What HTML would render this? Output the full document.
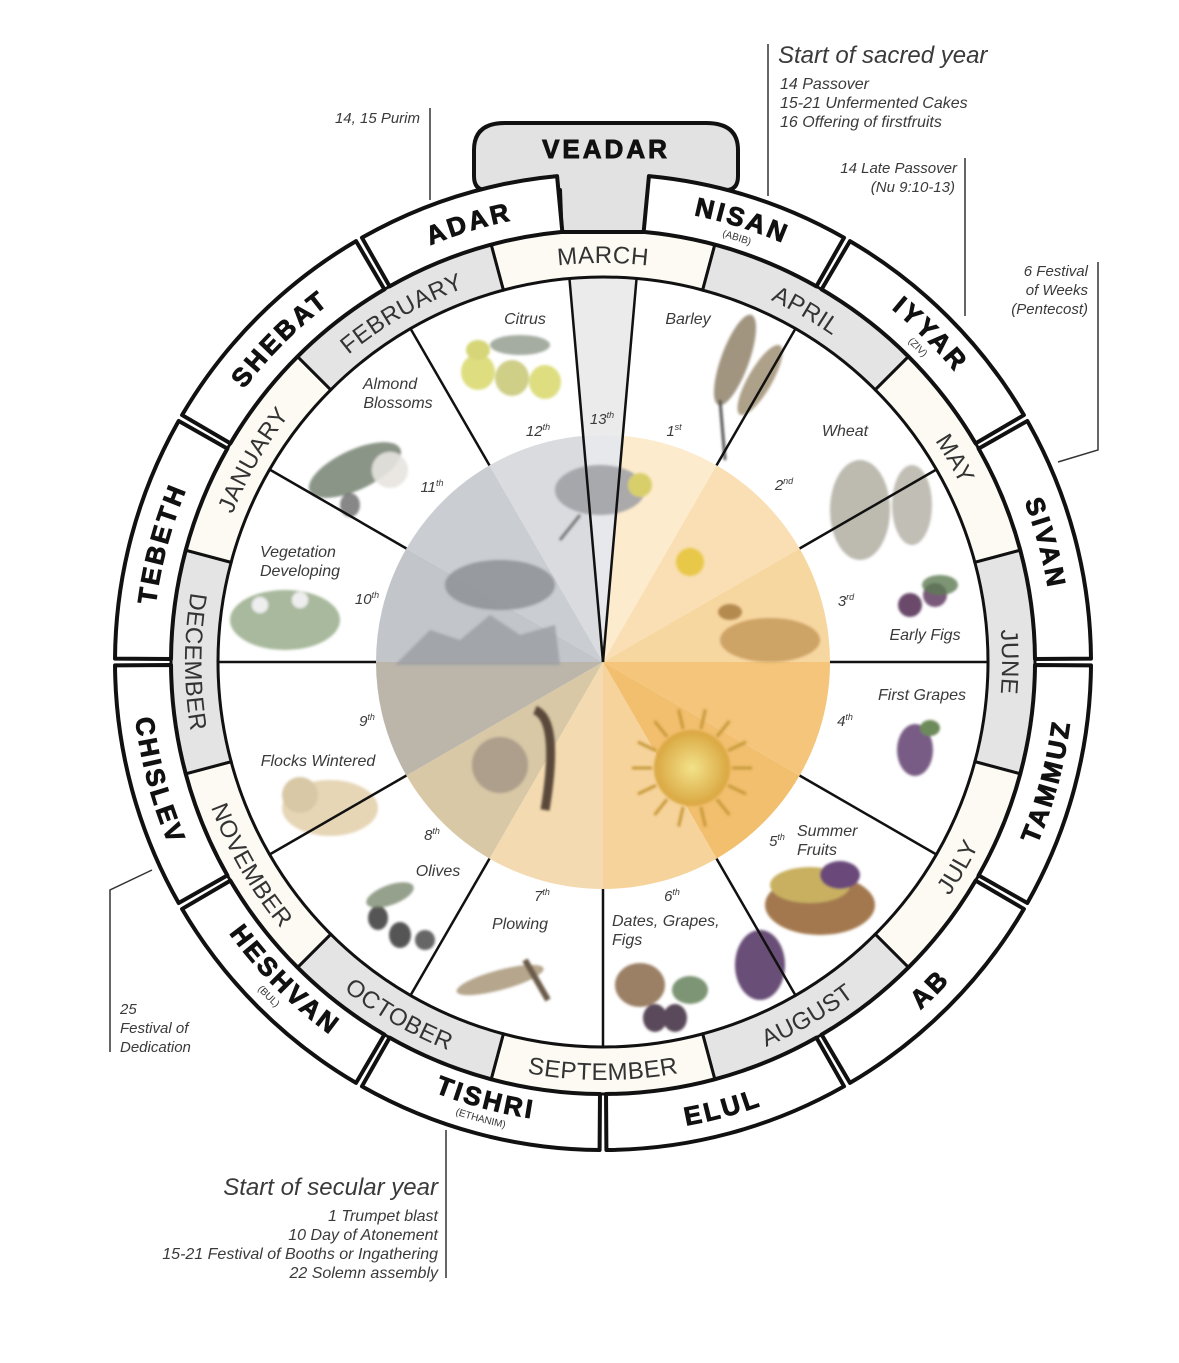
<!DOCTYPE html>
<html><head><meta charset="utf-8">
<style>
html,body{margin:0;padding:0;background:#fff;}
svg{display:block;}
text{font-family:"Liberation Sans",Arial,sans-serif;}
.it{font-style:italic;fill:#3a3a3a;}
</style></head>
<body>
<svg id="s" width="1179" height="1363" viewBox="0 0 1179 1363" xmlns="http://www.w3.org/2000/svg">
<defs>
<radialGradient id="sun" cx="50%" cy="50%" r="50%"><stop offset="0" stop-color="#f3e28a"/><stop offset="1" stop-color="#d9a640"/></radialGradient>
<filter id="bl"><feGaussianBlur stdDeviation="1.2"/></filter>
</defs>
</svg>
<script>
const NS="http://www.w3.org/2000/svg";
const S=document.getElementById('s');
const cx=603,cy=662;
function add(tag,at,txt,parent){const e=document.createElementNS(NS,tag);for(const k in at)e.setAttribute(k,at[k]);if(txt!=null)e.textContent=txt;(parent||S).appendChild(e);return e;}
function pt(r,a){const t=a*Math.PI/180;return [cx+r*Math.sin(t),cy-r*Math.cos(t)];}
function sector(r1,r2,a1,a2){const p1=pt(r2,a1),p2=pt(r2,a2),p3=pt(r1,a2),p4=pt(r1,a1);const lg=(a2-a1)>180?1:0;
 let d=`M${p1[0]},${p1[1]} A${r2},${r2} 0 ${lg} 1 ${p2[0]},${p2[1]} L${p3[0]},${p3[1]}`;
 if(r1>0)d+=` A${r1},${r1} 0 ${lg} 0 ${p4[0]},${p4[1]}`;return d+' Z';}
const disc=[[270,300,'#c2c5ca'],[300,330,'#cacdd2'],[330,355,'#d9dbdf'],[355,365,'#e7e8eb'],[5,30,'#fdebcd'],[30,60,'#f9dfb3'],[60,90,'#f7d7a0'],[90,120,'#f4c57a'],[120,150,'#f2bf6e'],[150,180,'#f6d39b'],[180,210,'#f4dab0'],[210,240,'#d8c8a6'],[240,270,'#bcb6aa']];
disc.forEach(d=>add('path',{d:sector(0,227,d[0],d[1]),fill:d[2]}));
add('path',{d:sector(227,385,-5,5),fill:'#ebebeb'});
const G=add('g',{filter:'url(#bl)'});
function el(x,y,rx,ry,f,op,rot){add('ellipse',{cx:x,cy:y,rx:rx,ry:ry,fill:f,opacity:op||1,transform:rot?`rotate(${rot} ${x} ${y})`:''},null,G);}
el(478,372,17,18,'#dede80');el(512,378,17,18,'#cfcf88');el(545,382,16,17,'#dede80');el(478,350,12,10,'#d6d678');el(520,345,30,10,'#7f8a7a',.7);
el(735,360,14,48,'#8a7b60',.8,20);el(760,380,12,40,'#9a8a6a',.8,30);add('line',{x1:720,y1:400,x2:725,y2:460,stroke:'#555','stroke-width':3},null,G);
el(355,470,50,20,'#5a6a55',.7,-25);el(390,470,18,18,'#e8e4e0',.9);el(350,505,10,12,'#555',.7);
el(600,490,45,25,'#9c9ea2',.85);el(640,485,12,12,'#d8cf6a');add('line',{x1:580,y1:515,x2:560,y2:540,stroke:'#777','stroke-width':3},null,G);
el(860,510,30,50,'#a7a396',.75);el(912,505,20,40,'#a7a396',.7);
el(690,562,14,14,'#e8c84a');
el(285,620,55,30,'#6e8a5a',.6);el(260,605,8,8,'#eee');el(300,600,8,8,'#eee');
el(500,585,55,25,'#8e9196',.85);add('path',{d:'M395,665 L430,630 L460,640 L490,615 L520,635 L555,625 L560,665 Z',fill:'#9a9da2',opacity:.8},null,G);
el(910,605,12,12,'#6a4a6a');el(935,595,12,12,'#7a5a7a');el(940,585,18,10,'#5d7a52',.8);
el(770,640,50,22,'#c79a5c',.85);el(730,612,12,8,'#b58a50');
el(915,750,18,26,'#6a4a78',.9);el(930,728,10,8,'#6d8a5a');
el(500,765,28,28,'#a89a8a',.9);add('path',{d:'M535,710 Q560,720 545,810',stroke:'#5a4a3a','stroke-width':9,fill:'none'},null,G);
el(692,768,38,38,'url(#sun)');
for(let i=0;i<14;i++){const a=i*Math.PI/7;add('line',{x1:692+40*Math.cos(a),y1:768+40*Math.sin(a),x2:692+60*Math.cos(a),y2:768+60*Math.sin(a),stroke:'#c89a3a','stroke-width':3},null,G);}
el(330,808,48,28,'#e6d6b6');el(300,795,18,18,'#d8c8a6');
el(378,918,10,12,'#555');el(400,935,11,13,'#555');el(425,940,10,10,'#666');el(390,895,25,10,'#7a8a70',.8,-20);
el(820,905,55,30,'#9a6a3a',.9);el(810,885,40,18,'#c8b060');el(840,875,20,14,'#6a4a7a');
el(500,980,45,10,'#a49070',.8,-15);add('line',{x1:525,y1:960,x2:548,y2:1000,stroke:'#6a5a4a','stroke-width':6},null,G);
el(640,985,25,22,'#8a6a4a',.85);el(655,1018,12,14,'#5a4a5a');el(675,1018,12,14,'#5a4a5a');el(690,990,18,14,'#5d7a52',.8);el(760,965,25,35,'#5a3a68',.9);
const L=(r1,r2,a,w)=>{const p=pt(r1,a),q=pt(r2,a);add('line',{x1:p[0],y1:p[1],x2:q[0],y2:q[1],stroke:'#111','stroke-width':w||2.5});};
for(let k=1;k<12;k++)L(227,385,k*30);
L(0,385,-5);L(0,385,5);
const greg=['MARCH','APRIL','MAY','JUNE','JULY','AUGUST','SEPTEMBER','OCTOBER','NOVEMBER','DECEMBER','JANUARY','FEBRUARY'];
greg.forEach((m,i)=>add('path',{d:sector(385,432,-15+30*i,15+30*i),fill:i%2?'#e4e4e4':'#fcfaf3',stroke:'#111','stroke-width':3}));
add('path',{d:`M${pt(432,-5.5)} L560,190 L486,190 Q474,190 474,176 L474,150 Q474,123 505,123 L706,123 Q738,123 738,150 L738,176 Q738,190 726,190 L650,190 L${pt(432,5.5)} Z`,fill:'#e2e2e2',stroke:'#111','stroke-width':4,'stroke-linejoin':'round'});
const heb=[['NISAN',5,30,'(ABIB)'],['IYYAR',30,60,'(ZIV)'],['SIVAN',60,90],['TAMMUZ',90,120],['AB',120,150],['ELUL',150,180],['TISHRI',180,210,'(ETHANIM)'],['HESHVAN',210,240,'(BUL)'],['CHISLEV',240,270],['TEBETH',270,300],['SHEBAT',300,330],['ADAR',330,355]];
heb.forEach(h=>add('path',{d:sector(432,488,h[1]+0.4,h[2]-0.4),fill:'#fff',stroke:'#111','stroke-width':4,'stroke-linejoin':'round'}));
let pid=0;
function arcText(txt,r,a,size,opt){opt=opt||{};const top=(Math.cos(a*Math.PI/180)>0.01)||Math.abs(a-90)<0.01;
 const id='p'+(pid++);let d;
 if(top){const p=pt(r,a-70),q=pt(r,a+70);d=`M${p} A${r},${r} 0 0 1 ${q}`;}
 else{const p=pt(r,a+70),q=pt(r,a-70);d=`M${p} A${r},${r} 0 0 0 ${q}`;}
 add('path',{id:id,d:d,fill:'none'});
 const at={'font-size':size,'font-weight':opt.w||'normal',fill:opt.f||'#333','letter-spacing':opt.ls||0,'text-anchor':'middle'};
 if(opt.sw){at.stroke=opt.f;at['stroke-width']=opt.sw;}
 const t=add('text',at);
 add('textPath',{href:'#'+id,startOffset:'50%'},txt,t);}
greg.forEach((m,i)=>{const a=30*i;const top=(Math.cos(a*Math.PI/180)>0.01)||a===90;arcText(m,top?399:418,a,24,{ls:0.5});});
const hang={NISAN:17.5,IYYAR:45,SIVAN:75,TAMMUZ:105,AB:135,ELUL:165,TISHRI:195,HESHVAN:225,CHISLEV:255,TEBETH:285,SHEBAT:315,ADAR:343};
const HO={w:'bold',f:'#111',ls:3,sw:0.9};
heb.forEach(h=>{const a=hang[h[0]];const top=(Math.cos(a*Math.PI/180)>0.01)||a===90;
 if(h[3]){ if(top){arcText(h[0],456,a,26,HO);arcText(h[3],442,a,10);}
  else{arcText(h[0],462,a,26,HO);arcText(h[3],476,a,10);} }
 else arcText(h[0],top?451:471,a,26,HO);});
add('text',{x:606,y:158,'font-size':26,'font-weight':'bold','letter-spacing':3,'text-anchor':'middle',fill:'#111',stroke:'#111','stroke-width':0.9},'VEADAR');
function T(x,y,s,size,anchor){const m=/^(\d+)(st|nd|rd|th)$/.exec(s);
 const t=add('text',{x:x,y:y,'font-size':size||16,class:'it','text-anchor':anchor||'middle'},m?null:s);
 if(m){add('tspan',{},m[1],t);add('tspan',{'font-size':(size||16)*0.6,dy:-6},m[2],t);}}
T(525,324,'Citrus');T(688,324,'Barley');T(390,389,'Almond');T(398,408,'Blossoms');T(845,436,'Wheat');
T(538,436,'12th',15);T(602,424,'13th',15);T(674,436,'1st',15);T(432,492,'11th',15);T(784,490,'2nd',15);
T(298,557,'Vegetation');T(300,576,'Developing');T(367,604,'10th',15);T(846,606,'3rd',15);T(925,640,'Early Figs');
T(922,700,'First Grapes');T(845,726,'4th',15);T(367,726,'9th',15);T(318,766,'Flocks Wintered');T(432,840,'8th',15);
T(438,876,'Olives');T(777,846,'5th',15);T(797,836,'Summer',16,'start');T(797,855,'Fruits',16,'start');
T(542,901,'7th',15);T(672,901,'6th',15);T(520,929,'Plowing');T(612,926,'Dates, Grapes,',16,'start');T(612,945,'Figs',16,'start');
const ln=(d)=>add('path',{d:d,stroke:'#333','stroke-width':1.5,fill:'none'});
ln('M430,108 L430,200');T(420,123,'14, 15 Purim',15,'end');
ln('M768,44 L768,196');T(778,63,'Start of sacred year',24,'start');
T(780,89,'14  Passover',16,'start');T(780,108,'15-21 Unfermented Cakes',16,'start');T(780,127,'16 Offering of firstfruits',16,'start');
ln('M965,158 L965,316');T(957,173,'14 Late Passover',15,'end');T(955,192,'(Nu 9:10-13)',15,'end');
ln('M1098,262 L1098,450 L1058,462');T(1088,276,'6 Festival',15,'end');T(1088,295,'of  Weeks',15,'end');T(1088,314,'(Pentecost)',15,'end');
ln('M110,1052 L110,890 L152,870');T(120,1014,'25',15,'start');T(120,1033,'Festival of',15,'start');T(120,1052,'Dedication',15,'start');
ln('M446,1130 L446,1278');T(438,1195,'Start of secular year',24,'end');
T(438,1221,'1 Trumpet blast',16,'end');T(438,1240,'10 Day of Atonement',16,'end');T(438,1259,'15-21 Festival of Booths or Ingathering',16,'end');T(438,1278,'22 Solemn assembly',16,'end');
</script>
</body></html>
